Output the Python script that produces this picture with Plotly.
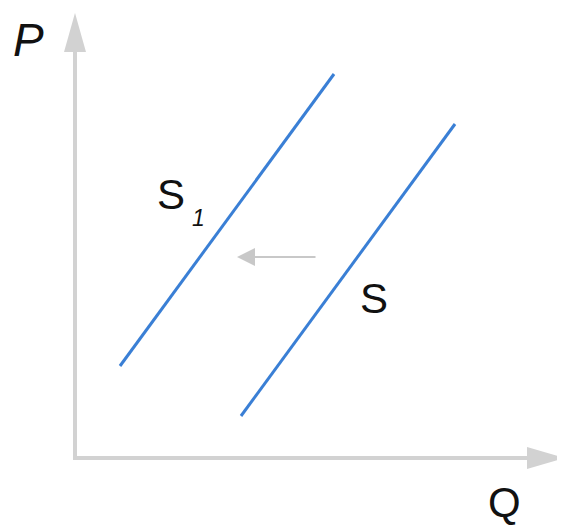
import plotly.graph_objects as go

# pixel-style coordinates of the sketch (y grows downward)
s1_x = [120, 334]
s1_y = [366, 74]
s_x = [241, 455]
s_y = [416, 124]

origin = (75, 458)
y_axis_top = 52
x_axis_end = 527

shift_from = (317, 257)
shift_to = (237, 257)

W, H = 565, 526
PAD = 8  # default body margin of the page
blue = '#3a7fd5'
grey = '#d2d2d2'

fig = go.Figure()
fig.add_trace(go.Scatter(x=s1_x, y=s1_y, mode='lines', line=dict(color=blue, width=3), hoverinfo='skip'))
fig.add_trace(go.Scatter(x=s_x, y=s_y, mode='lines', line=dict(color=blue, width=3), hoverinfo='skip'))

# axes with arrowheads
ox, oy = origin
fig.add_shape(type='line', x0=ox, y0=oy, x1=ox, y1=y_axis_top, line=dict(color=grey, width=4))
fig.add_shape(type='line', x0=ox - 2, y0=oy, x1=x_axis_end, y1=oy, line=dict(color=grey, width=4))
fig.add_shape(type='path', path=f'M {ox} 13 L {ox - 11} {y_axis_top} L {ox + 11} {y_axis_top} Z',
              fillcolor=grey, line=dict(width=0))
fig.add_shape(type='path', path=f'M {W} {oy} L {x_axis_end} {oy - 11} L {x_axis_end} {oy + 11} Z',
              fillcolor=grey, line=dict(width=0))

# shift arrow
fig.add_annotation(x=shift_to[0], y=shift_to[1], ax=shift_from[0], ay=shift_from[1],
                   xref='x', yref='y', axref='x', ayref='y', text='', showarrow=True,
                   arrowhead=2, arrowsize=1.8, arrowwidth=2, arrowcolor='#c8c8c8')

font = dict(family='Liberation Sans, Arial', color='#111111')
fig.add_annotation(x=28, y=40, text='<i>P</i>', showarrow=False, font=dict(size=46, **font))
fig.add_annotation(x=504, y=502, text='Q', showarrow=False, font=dict(size=42, **font))
fig.add_annotation(x=171, y=194, text='S', showarrow=False, font=dict(size=42, **font))
fig.add_annotation(x=198, y=218, text='<i>1</i>', showarrow=False, font=dict(size=23, **font))
fig.add_annotation(x=374, y=298, text='S', showarrow=False, font=dict(size=42, **font))

fig.update_layout(width=W - PAD, height=H - PAD, margin=dict(l=0, r=0, t=0, b=0),
                  paper_bgcolor='white', plot_bgcolor='white', showlegend=False,
                  xaxis=dict(range=[PAD, W], visible=False, fixedrange=True),
                  yaxis=dict(range=[H, PAD], visible=False, fixedrange=True))
fig.write_html('out.html', config={'displayModeBar': False})
